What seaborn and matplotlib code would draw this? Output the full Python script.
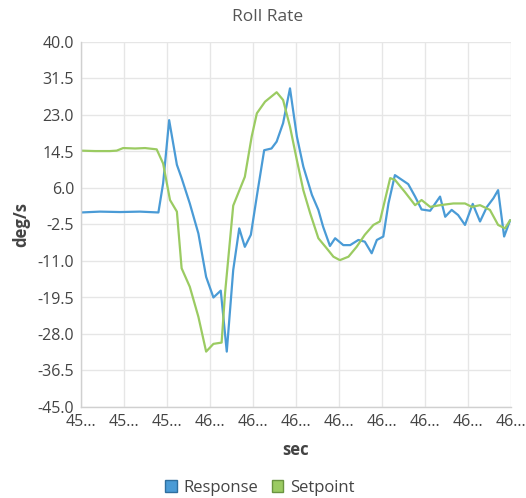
import numpy as np
import pandas as pd
import seaborn as sns
import matplotlib
matplotlib.use("Agg")
import matplotlib.pyplot as plt
from matplotlib.patches import Patch

# ---- data (time in sec, value in deg/s) ----
resp_t = [45.700, 45.744, 45.791, 45.837, 45.880, 45.891, 45.905, 45.923, 45.934,
          45.953, 45.973, 45.991, 46.008, 46.025, 46.039, 46.054, 46.068, 46.081,
          46.095, 46.110, 46.126, 46.143, 46.155, 46.170, 46.186, 46.202, 46.217,
          46.237, 46.252, 46.263, 46.279, 46.291, 46.310, 46.326, 46.345, 46.360,
          46.376, 46.388, 46.403, 46.415, 46.430, 46.461, 46.477, 46.492, 46.512,
          46.535, 46.547, 46.562, 46.577, 46.593, 46.611, 46.628, 46.644, 46.659,
          46.670, 46.684, 46.698]
resp_v = [0.3, 0.5, 0.4, 0.5, 0.3, 7.1, 21.8, 11.4, 8.3,
          2.4, -4.6, -14.7, -19.5, -17.9, -32.1, -13.1, -3.4, -7.7,
          -4.9, 4.8, 14.8, 15.2, 16.8, 21.1, 29.2, 18.0, 11.0,
          4.4, 0.9, -3.0, -7.5, -5.7, -7.3, -7.3, -6.1, -6.5,
          -9.2, -6.1, -5.3, 2.4, 9.0, 6.9, 4.0, 1.0, 0.7,
          4.0, -0.7, 0.9, -0.3, -2.6, 2.3, -1.8, 1.6, 3.6,
          5.5, -5.3, -1.5]

set_t = [45.700, 45.733, 45.767, 45.783, 45.798, 45.826, 45.849, 45.876, 45.891,
         45.907, 45.923, 45.934, 45.953, 45.973, 45.991, 46.008, 46.027, 46.035,
         46.054, 46.081, 46.097, 46.109, 46.128, 46.155, 46.170, 46.186, 46.202,
         46.217, 46.233, 46.252, 46.271, 46.287, 46.302, 46.322, 46.341, 46.360,
         46.380, 46.395, 46.419, 46.430, 46.453, 46.477, 46.492, 46.512, 46.535,
         46.566, 46.593, 46.609, 46.628, 46.651, 46.670, 46.686, 46.698]
set_v = [14.7, 14.6, 14.6, 14.7, 15.3, 15.2, 15.3, 15.0, 11.7,
         3.2, 0.5, -12.7, -17.0, -24.0, -32.1, -30.3, -30.0, -18.5,
         1.9, 8.6, 18.0, 23.4, 26.1, 28.3, 26.5, 20.3, 12.5,
         5.5, 0.1, -5.7, -8.0, -10.0, -10.8, -10.0, -7.7, -4.9,
         -2.6, -1.8, 8.3, 7.9, 5.1, 2.0, 3.2, 1.6, 2.0,
         2.4, 2.4, 1.6, 2.0, 0.9, -2.6, -3.4, -1.5]

series_names = ["Response", "Setpoint"]
x_ticks = [45.7, 45.8, 45.9, 46.0, 46.1, 46.2, 46.3, 46.4, 46.5, 46.6, 46.7]
x_tick_labels = ["45...", "45...", "45...", "46...", "46...", "46...",
                 "46...", "46...", "46...", "46...", "46..."]
y_ticks = [40.0, 31.5, 23.0, 14.5, 6.0, -2.5, -11.0, -19.5, -28.0, -36.5, -45.0]

df = pd.concat([
    pd.DataFrame({"sec": resp_t, "deg/s": resp_v, "series": series_names[0]}),
    pd.DataFrame({"sec": set_t, "deg/s": set_v, "series": series_names[1]}),
], ignore_index=True)

colors = {"Response": "#4a9bd6", "Setpoint": "#9bcb62"}
edge_colors = {"Response": "#2f6f9f", "Setpoint": "#6a9440"}

sns.set_theme(style="white")
plt.rcParams["font.family"] = ["Open Sans", "DejaVu Sans"]

fig = plt.figure(figsize=(5.26, 4.98), dpi=100)
ax = fig.add_axes([81 / 526, 1 - 407 / 498, 430 / 526, 365 / 498])

sns.lineplot(data=df, x="sec", y="deg/s", hue="series", palette=colors,
             linewidth=1.6, ax=ax, legend=False, sort=False, estimator=None)

ax.set_xlim(45.7, 46.7)
ax.set_ylim(-45.0, 40.0)
ax.set_xticks(x_ticks)
ax.set_xticklabels(x_tick_labels)
ax.set_yticks(y_ticks)
ax.set_yticklabels([f"{v:.1f}" for v in y_ticks])
ax.grid(True, color="#e6e6e6", linewidth=1.0)
ax.set_axisbelow(True)
for s in ["top", "right"]:
    ax.spines[s].set_visible(False)
for s in ["left", "bottom"]:
    ax.spines[s].set_color("#d0d0d0")
    ax.spines[s].set_linewidth(1.0)
ax.tick_params(axis="both", colors="#d9d9d9", labelcolor="#444444",
               labelsize=11.5, length=4, width=1, pad=1)

ax.set_xlabel("sec", fontsize=12, fontweight="bold", color="#444444", labelpad=8)
ax.set_ylabel("deg/s", fontsize=12, fontweight="bold", color="#444444", labelpad=5)
fig.text(268 / 526, 1 - 17 / 498, "Roll Rate", fontsize=12.5, color="#555555",
         ha="center", va="center")

handles = [Patch(facecolor=colors[n], edgecolor=edge_colors[n], linewidth=1.0, label=n)
           for n in series_names]
fig.legend(handles=handles, loc="center", ncol=2, frameon=False,
           bbox_to_anchor=(260 / 526, 1 - 488 / 498), handlelength=0.7, handleheight=0.7,
           handletextpad=0.4, columnspacing=0.8,
           prop={"size": 12}, labelcolor="#444444")

fig.savefig("out.png", dpi=100, facecolor="white")
